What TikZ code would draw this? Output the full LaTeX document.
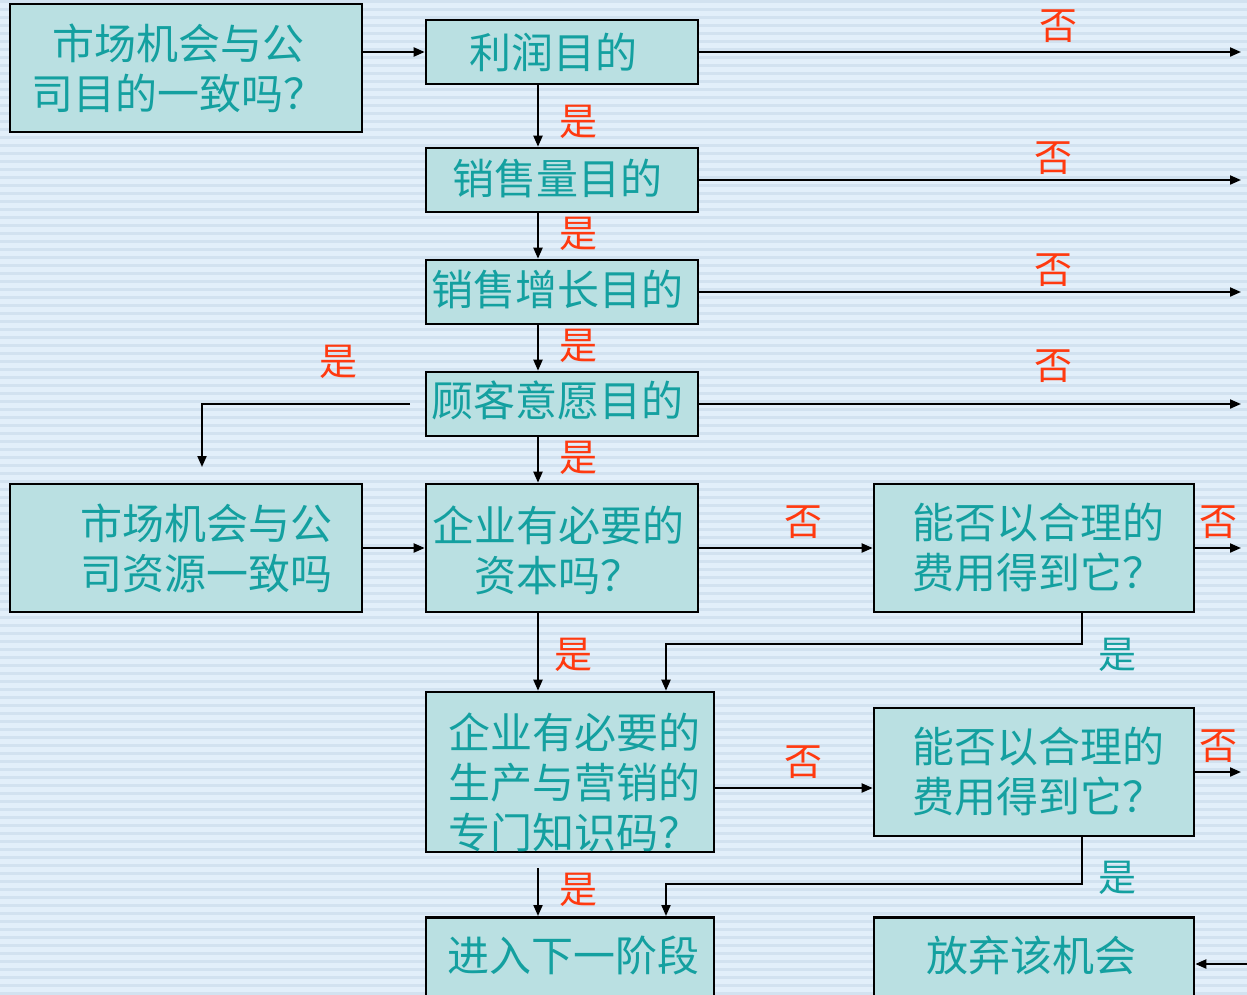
\documentclass[tikz,border=0pt]{standalone}
\usepackage{fontspec}
\setmainfont{Noto Sans CJK SC}
\newfontfamily\cjk{Noto Sans CJK SC}
\usetikzlibrary{arrows.meta}
\definecolor{bgblue}{HTML}{E2EFFA}
\definecolor{stripe}{HTML}{D2E2F0}
\definecolor{boxfill}{HTML}{BAE0E2}
\definecolor{tealtxt}{HTML}{14A0A0}
\definecolor{redtxt}{HTML}{FF3A10}
\tikzset{
  box/.style={draw=black, line width=2.6pt, fill=boxfill, text=tealtxt, inner sep=0pt, font=\cjk\fontsize{42}{50}\selectfont},
  lab/.style={text=redtxt, inner sep=0pt, font=\cjk\fontsize{38}{40}\selectfont},
  labt/.style={text=tealtxt, inner sep=0pt, font=\cjk\fontsize{38}{40}\selectfont},
  conn/.style={draw=black, line width=2pt, -{Triangle[length=11pt,width=9pt]}},
}
\begin{document}
\begin{tikzpicture}[x=1pt,y=-1pt]
\useasboundingbox (0,0) rectangle (1247,994);
\fill[bgblue] (0,0) rectangle (1247,994);
\foreach \k in {0,8,...,992} { \fill[stripe] (0,\k) rectangle (1247,\k+3); }
% boxes
\node[box, minimum width=352pt, minimum height=128pt] (A) at (186,68) {};
\node[box,draw=none,fill=none,align=center] at (178,68) {市场机会与公\\司目的一致吗？};
\node[box, minimum width=272pt, minimum height=64pt] (B) at (562,52) {};
\node[box,draw=none,fill=none] at (553,52) {利润目的};
\node[box, minimum width=272pt, minimum height=64pt] (C) at (562,180) {};
\node[box,draw=none,fill=none] at (557,178) {销售量目的};
\node[box, minimum width=272pt, minimum height=64pt] (D) at (562,292) {};
\node[box,draw=none,fill=none] at (557,289) {销售增长目的};
\node[box, minimum width=272pt, minimum height=64pt] (E) at (562,404) {};
\node[box,draw=none,fill=none] at (557,400) {顾客意愿目的};
\node[box, minimum width=352pt, minimum height=128pt] (F) at (186,548) {};
\node[box,draw=none,fill=none,align=center] at (206,548) {市场机会与公\\司资源一致吗};
\node[box, minimum width=272pt, minimum height=128pt] (G) at (562,548) {};
\node[box,draw=none,fill=none,align=center] at (558,550) {企业有必要的\\资本吗？};
\node[box, minimum width=320pt, minimum height=128pt] (H) at (1034,548) {};
\node[box,draw=none,fill=none,align=left] at (1038,548) {能否以合理的\\费用得到它？};
\node[box, minimum width=288pt, minimum height=160pt] (I) at (570,772) {};
\node[box,draw=none,fill=none,align=left] at (574,782) {企业有必要的\\生产与营销的\\专门知识码？};
\node[box, minimum width=320pt, minimum height=128pt] (J) at (1034,772) {};
\node[box,draw=none,fill=none,align=left] at (1038,772) {能否以合理的\\费用得到它？};
\node[box, minimum width=288pt, minimum height=100pt, anchor=north] (K) at (570,916) {};
\node[box,draw=none,fill=none] at (573,955) {进入下一阶段};
\node[box, minimum width=320pt, minimum height=100pt, anchor=north] (L) at (1034,916) {};
\node[box,draw=none,fill=none] at (1031,955) {放弃该机会};
% free ends
\coordinate (Bx) at (1241,52);
\coordinate (Cx) at (1241,180);
\coordinate (Dx) at (1241,292);
\coordinate (Ex) at (1241,404);
\coordinate (Hx) at (1241,548);
\coordinate (Jx) at (1241,772);
\coordinate (Lx) at (1247,964);
\coordinate (Es) at (410,404);
\coordinate (Fe) at (202,467);
\coordinate (Is) at (538,868);
% connectors
\draw[conn] (A.east |- 0,52) -- (B.west);
\draw[conn] (B.east) -- (Bx);
\draw[conn] (C.east) -- (Cx);
\draw[conn] (D.east) -- (Dx);
\draw[conn] (E.east) -- (Ex);
\draw[conn] (B.south -| 538,0) -- (C.north -| 538,0);
\draw[conn] (C.south -| 538,0) -- (D.north -| 538,0);
\draw[conn] (D.south -| 538,0) -- (E.north -| 538,0);
\draw[conn] (E.south -| 538,0) -- (G.north -| 538,0);
\draw[conn] (Es) -| (Fe);
\draw[conn] (F.east) -- (G.west);
\draw[conn] (G.east) -- (H.west);
\draw[conn] (H.east) -- (Hx);
\draw[conn] (G.south -| 538,0) -- (I.north -| 538,0);
\draw[conn] (H.south -| 1082,0) -- (1082,644) -| (I.north -| 666,0);
\draw[conn] (I.east |- 0,788) -- (J.west |- 0,788);
\draw[conn] (J.east) -- (Jx);
\draw[conn] (Is) -- (K.north -| 538,0);
\draw[conn] (J.south -| 1082,0) -- (1082,884) -| (K.north -| 666,0);
\draw[conn] (Lx) -- (L.east |- 0,964);
% labels
\node[lab] at (1058,26) {否};
\node[lab] at (1053,158) {否};
\node[lab] at (1053,270) {否};
\node[lab] at (1053,366) {否};
\node[lab] at (578,122) {是};
\node[lab] at (578,234) {是};
\node[lab] at (578,346) {是};
\node[lab] at (578,458) {是};
\node[lab] at (338,362) {是};
\node[lab] at (803,522) {否};
\node[lab] at (1218,522) {否};
\node[lab] at (573,655) {是};
\node[labt] at (1117,655) {是};
\node[lab] at (803,762) {否};
\node[lab] at (1218,746) {否};
\node[lab] at (578,890) {是};
\node[labt] at (1117,878) {是};
\end{tikzpicture}
\end{document}
